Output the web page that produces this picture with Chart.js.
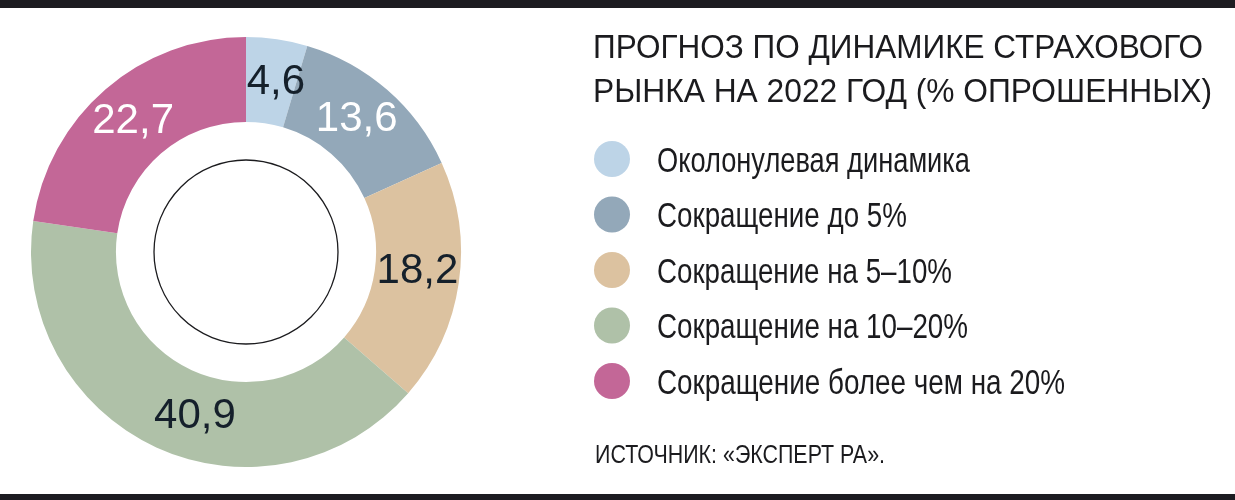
<!DOCTYPE html>
<html lang="ru">
<head>
<meta charset="utf-8">
<title>Прогноз по динамике страхового рынка на 2022 год</title>
<script src="https://cdn.jsdelivr.net/npm/chart.js@4/dist/chart.umd.min.js"></script>
<style>
  html, body { margin: 0; padding: 0; background: #fff; }
  canvas { display: block; }
</style>
</head>
<body>
<canvas id="forecastChart" width="1235" height="500"></canvas>
<script>
const categories = [
  "Околонулевая динамика",
  "Сокращение до 5%",
  "Сокращение на 5–10%",
  "Сокращение на 10–20%",
  "Сокращение более чем на 20%",
];
const shares = [4.6, 13.6, 18.2, 40.9, 22.7];
const sliceColors = ["#bdd4e7", "#93a8b9", "#dcc2a0", "#afc1a8", "#c36797"];
const valueColors = ["#15202b", "#ffffff", "#15202b", "#15202b", "#ffffff"];
const titleLines = ["ПРОГНОЗ ПО ДИНАМИКЕ СТРАХОВОГО", "РЫНКА НА 2022 ГОД (% ОПРОШЕННЫХ)"];
const sourceText = "ИСТОЧНИК: «ЭКСПЕРТ РА».";

// condensed look: regular Helvetica-like face, squeezed to the printed widths
const narrowFont = "'Liberation Sans', Arimo, sans-serif";
const textColor = "#1b1b1e";

// squeeze/stretch a line so it spans the same width as in the print layout
const fitText = (ctx, text, x, y, width) => {
  const w = ctx.measureText(text).width;
  ctx.save();
  ctx.translate(x, y);
  ctx.scale(width / w, 1);
  ctx.fillText(text, 0, 0);
  ctx.restore();
};

const pageDecor = {
  id: "pageDecor",
  afterDraw(chart) {
    const ctx = chart.ctx;
    const arc = chart.getDatasetMeta(0).data[0];

    ctx.save();
    // black rules top and bottom
    ctx.fillStyle = "#1d1c21";
    ctx.fillRect(0, 0, chart.width, 8);
    ctx.fillRect(0, 494, chart.width, 6);

    // thin circle inside the hole
    ctx.beginPath();
    ctx.arc(arc.x, arc.y, 92, 0, Math.PI * 2);
    ctx.lineWidth = 1.3;
    ctx.strokeStyle = "#1b1b1e";
    ctx.stroke();

    // title
    ctx.fillStyle = textColor;
    ctx.textBaseline = "alphabetic";
    ctx.textAlign = "left";
    ctx.font = "34px " + narrowFont;
    fitText(ctx, titleLines[0], 593, 58, 610);
    fitText(ctx, titleLines[1], 593, 102, 619);

    // legend
    const legendWidths = [313, 250, 295, 311, 408];
    ctx.font = "35px " + narrowFont;
    chart.data.labels.forEach((label, i) => {
      const cy = 159 + i * 55.5;
      ctx.beginPath();
      ctx.arc(612, cy, 18, 0, Math.PI * 2);
      ctx.fillStyle = chart.data.datasets[0].backgroundColor[i];
      ctx.fill();
      ctx.fillStyle = textColor;
      fitText(ctx, label, 657, cy + 12.5, legendWidths[i]);
    });

    // source
    ctx.font = "25px " + narrowFont;
    fitText(ctx, sourceText, 595, 463, 290);
    ctx.restore();
  },
};

const sliceValues = {
  id: "sliceValues",
  afterDatasetsDraw(chart, args, opts) {
    const ctx = chart.ctx;
    const meta = chart.getDatasetMeta(0);
    ctx.save();
    ctx.font = "42px 'Liberation Sans', Arimo, sans-serif";
    ctx.textAlign = "center";
    ctx.textBaseline = "middle";
    meta.data.forEach((el, i) => {
      const nudge = opts.angleNudge[i] || 0;
      const mid = (el.startAngle + el.endAngle) / 2 + nudge;
      const r = (el.innerRadius + el.outerRadius) / 2;
      const x = el.x + Math.cos(mid) * r;
      const y = el.y + Math.sin(mid) * r;
      ctx.fillStyle = valueColors[i];
      ctx.fillText(shares[i].toFixed(1).replace(".", ","), x, y);
    });
    ctx.restore();
  },
};

new Chart(document.getElementById("forecastChart"), {
  type: "doughnut",
  data: {
    labels: categories,
    datasets: [
      {
        data: shares,
        backgroundColor: sliceColors,
        borderWidth: 0,
        hoverOffset: 0,
      },
    ],
  },
  options: {
    responsive: false,
    animation: false,
    cutout: "60.5%",
    layout: { padding: { left: 31, top: 37, right: 774, bottom: 33 } },
    plugins: {
      legend: { display: false },
      tooltip: { enabled: false },
      sliceValues: { angleNudge: [0.03, -0.02, -0.03, -0.13, 0] },
    },
  },
  plugins: [sliceValues, pageDecor],
});
</script>
</body>
</html>
